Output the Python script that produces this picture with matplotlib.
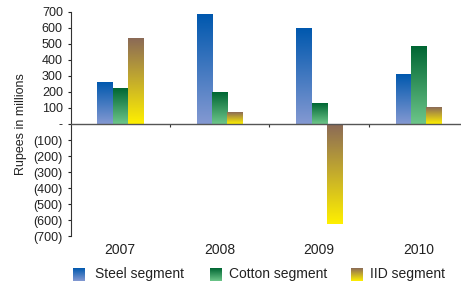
import numpy as np
import matplotlib
matplotlib.use("Agg")
import matplotlib.pyplot as plt
from matplotlib.colors import LinearSegmentedColormap

plt.rcParams['font.family'] = ['Liberation Sans', 'DejaVu Sans']

years = ['2007', '2008', '2009', '2010']
series = ['Steel segment', 'Cotton segment', 'IID segment']
steel = [262, 687, 594, 312]
cotton = [225, 194, 131, 487]
iid = [537, 69, -622, 106]
yticks = [700, 600, 500, 400, 300, 200, 100, 0, -100, -200, -300, -400, -500, -600, -700]

# top colour, bottom colour for each series
grads = [('#0058ae', '#8499d2'), ('#006633', '#6dc68a'), ('#8b6a57', '#fff000')]
cmaps = [LinearSegmentedColormap.from_list(f'g{i}', [b, t]) for i, (t, b) in enumerate(grads)]
grad = np.linspace(0, 1, 256).reshape(-1, 1)

W, H = 461, 283
fig = plt.figure(figsize=(W / 100, H / 100), dpi=100)
ax = fig.add_axes([70.5 / W, 1 - 236 / H, 1 - 70.5 / W, (236 - 12) / H])

x = np.arange(len(years))
width = 0.155
offsets = [-width, 0, width]
for vals, off, cm in zip([steel, cotton, iid], offsets, cmaps):
    bars = ax.bar(x + off, vals, width, color='none', linewidth=0)
    for b in bars:
        x0, y0 = b.get_x(), b.get_y()
        x1, y1 = x0 + b.get_width(), y0 + b.get_height()
        lo, hi = min(y0, y1), max(y0, y1)
        ax.imshow(grad, cmap=cm, extent=(x0, x1, lo, hi), origin='lower',
                  aspect='auto', interpolation='bilinear', zorder=2)

ax.set_xlim(-0.5, 3.425)
ax.set_ylim(-700, 700)
ax.set_yticks(yticks)
ax.set_yticklabels([f'({-v})' if v < 0 else ('-' if v == 0 else str(v)) for v in yticks])
ax.tick_params(axis='y', direction='out', length=2.5, width=0.8, pad=3,
               labelsize=9, colors='#222222')
ax.set_ylabel('Rupees in millions', fontsize=9, labelpad=5, color='#222222')

for s in ['top', 'right']:
    ax.spines[s].set_visible(False)
ax.spines['left'].set_color('#333333')
ax.spines['left'].set_linewidth(0.8)
ax.spines['bottom'].set_position(('data', 0))
ax.spines['bottom'].set_color('#555555')
ax.spines['bottom'].set_linewidth(1.0)
ax.set_xticks([0.5, 1.5, 2.5])
ax.set_xticklabels([])
ax.tick_params(axis='x', direction='out', length=2.5, width=0.8, colors='#333333')

for i, yr in enumerate(years):
    ax.text(i, -700 - 14 * 1400 / 224, yr, ha='center', va='center',
            fontsize=10, color='#222222')

# legend with gradient swatches
leg = [(73, 95), (210, 229), (351, 370)]
for (sx, tx), name, cm in zip(leg, series, cmaps):
    lax = fig.add_axes([sx / W, 1 - 281 / H, 12 / W, 13 / H])
    lax.imshow(grad, cmap=cm, origin='lower', aspect='auto', interpolation='bilinear')
    lax.axis('off')
    fig.text(tx / W, 1 - 274 / H, name, ha='left', va='center',
             fontsize=10, color='#222222')

fig.savefig('out.png', dpi=100)
